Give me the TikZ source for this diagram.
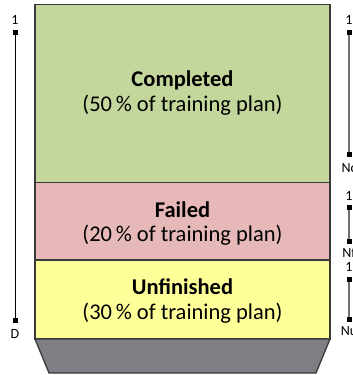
\documentclass[tikz,border=0pt]{standalone}
\usepackage{fontspec}
\setmainfont{Carlito}
\begin{document}
\definecolor{donegreen}{HTML}{C3D69B}
\definecolor{failpink}{HTML}{E6B9B8}
\definecolor{openyellow}{HTML}{FFFF99}
\definecolor{basegray}{HTML}{7F7E84}
\definecolor{edgegray}{HTML}{3A3A3A}
\definecolor{axisgray}{HTML}{707070}
\begin{tikzpicture}[x=1pt,y=-1pt,
  band/.style={draw=edgegray,line width=1.3pt},
  tick/.style={fill=black,minimum size=5pt,inner sep=0pt,outer sep=0pt},
  axislabel/.style={font=\fontsize{14}{16}\selectfont,inner sep=0pt},
  bandtext/.style={align=center,font=\fontsize{22.5}{24.5}\selectfont},
  leftaxis/.style={draw=black,line width=0.9pt},
  rightaxis/.style={draw=axisgray,line width=1.2pt}]
\useasboundingbox (0,0) rectangle (353,375);

% stacked bands of the training plan
\draw[band,fill=donegreen] (35,4.5) rectangle (330,182.5);
\draw[band,fill=failpink] (35,182.5) rectangle (330,260);
\draw[band,fill=openyellow] (35,260) rectangle (330,339);
\draw[band,fill=basegray] (35,339) -- (330,339) -- (316,373) -- (49,373) -- cycle;

\node[bandtext] (completed) at (182.5,93) {\textbf{Completed}\\(50\,\% of training plan)};
\node[bandtext] (failed) at (182.5,223.5) {\textbf{Failed}\\(20\,\% of training plan)};
\node[bandtext] (unfinished) at (182.5,301) {\textbf{Unfinished}\\(30\,\% of training plan)};

% overall axis on the left
\node[tick] (dtop) at (15,32) {};
\node[tick] (dbot) at (15,320) {};
\draw[leftaxis] (dtop) -- (dbot);
\node[axislabel] (done) at (15,19.5) {1};
\node[axislabel] (dlabel) at (15,334) {D};

% per-band axes on the right
\node[tick] (ctop) at (349,32) {};
\node[tick] (cbot) at (349,154) {};
\draw[rightaxis] (ctop) -- (cbot);
\node[axislabel] (cone) at (349,19.5) {1};
\node[axislabel] (clabel) at (349,168) {Nc};

\node[tick] (ftop) at (349,207) {};
\node[tick] (fbot) at (349,241) {};
\draw[rightaxis] (ftop) -- (fbot);
\node[axislabel] (fone) at (349,196) {1};
\node[axislabel] (flabel) at (349,253) {Nf};

\node[tick] (utop) at (349,279) {};
\node[tick] (ubot) at (349,319) {};
\draw[rightaxis] (utop) -- (ubot);
\node[axislabel] (uone) at (349,267) {1};
\node[axislabel] (ulabel) at (349,331) {Nu};
\end{tikzpicture}
\end{document}
